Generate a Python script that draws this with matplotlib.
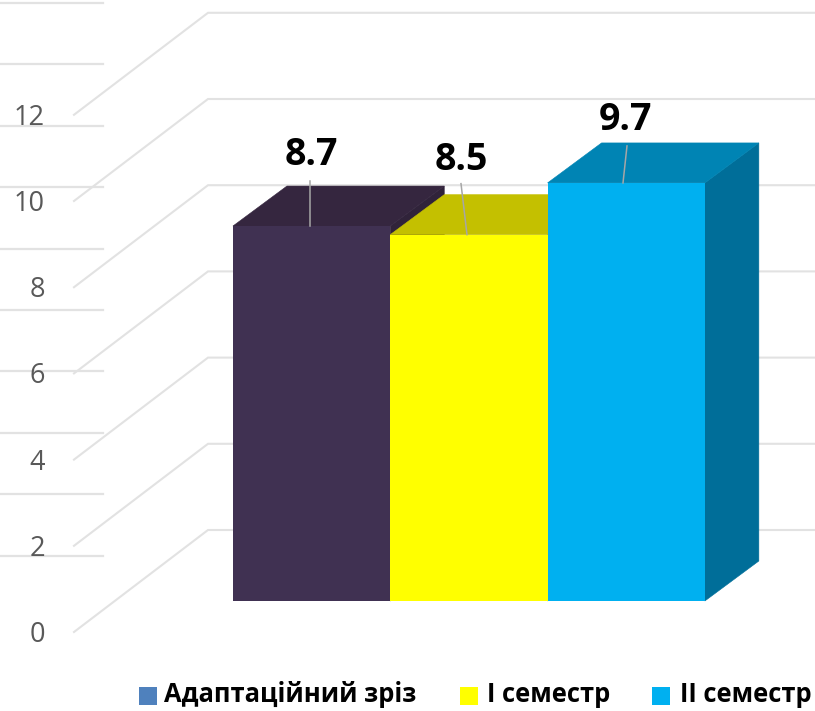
import matplotlib
matplotlib.use("Agg")
import matplotlib.pyplot as plt
from matplotlib.patches import Polygon, Rectangle

# datos
categories = ["Адаптаційний зріз", "І семестр", "ІІ семестр"]
values = [8.7, 8.5, 9.7]
labels = ["8.7", "8.5", "9.7"]
y_ticks = [0, 2, 4, 6, 8, 10, 12]

front_colors = ["#403152", "#FFFF00", "#00B0F0"]
top_colors = ["#35263F", "#C4C000", "#0084B4"]
side_colors = ["#30233A", "#9A9700", "#006E99"]
legend_colors = ["#4F81BD", "#FFFF00", "#00B0F0"]
grid_color = "#E2E2E2"
tick_color = "#595959"

plt.rcParams["font.family"] = ["Open Sans", "DejaVu Sans"]

W, H = 815, 711
PX_X = 157.3   # pixels por categoria
PX_Y = 43.1    # pixels por unidad
BASE_X = 311.6
BASE_Y = 601


def X(px):
    return (px - BASE_X) / PX_X


def Y(px):
    return (BASE_Y - px) / PX_Y


fig = plt.figure(figsize=(W / 100, H / 100), dpi=100)
ax = fig.add_axes([0, 0, 1, 1])
ax.set_xlim(X(0), X(W))
ax.set_ylim(Y(H), Y(0))
ax.axis("off")

dx_bar = 54 / PX_X
dy_bar = 40 / PX_Y

# lineas sueltas de la izquierda
for k in range(10):
    y = Y(3 + 61.4 * k)
    ax.plot([X(0), X(103)], [y, y], color=grid_color, lw=1.6, zorder=1)

# paredes del grafico
floor_front = Y(632)
floor_back = Y(530)
for t in y_ticks:
    y0 = floor_front + t
    y1 = floor_back + t
    ax.plot([X(74), X(208), X(W)], [y0, y1, y1], color=grid_color, lw=1.5,
            solid_joinstyle="miter", zorder=1)
    ax.text(X(45), y0 - 3 / PX_Y, str(t), ha="right", va="center", fontsize=19.5,
            color=tick_color, zorder=5)

# barras
w = 1.0
for i, v in enumerate(values):
    l = i - w / 2
    r = i + w / 2
    ax.add_patch(Polygon([(r, 0), (r + dx_bar, dy_bar), (r + dx_bar, v + dy_bar), (r, v)],
                         closed=True, fc=side_colors[i], ec=side_colors[i], lw=0.4, zorder=2 + i))
    ax.add_patch(Polygon([(l, v), (l + dx_bar, v + dy_bar), (r + dx_bar, v + dy_bar), (r, v)],
                         closed=True, fc=top_colors[i], ec=top_colors[i], lw=0.4, zorder=2 + i))
    ax.bar(i, v, width=w, color=front_colors[i], zorder=2 + i)

# etiquetas con linea guia
label_off = [71, 75, 63]
label_x = [311, 461, 626]
leader_top = [45, 51, 37]
leader_x0 = [310, 467, 623]
leader_x1 = [310, 461, 627]
for i, v in enumerate(values):
    ax.plot([X(leader_x0[i]), X(leader_x1[i])], [v, v + leader_top[i] / PX_Y],
            color="#A6A6A6", lw=1.1, zorder=6)
    ax.text(X(label_x[i]), v + label_off[i] / PX_Y, labels[i], ha="center", va="center",
            fontsize=27, fontweight="bold", color="black", zorder=7)

# leyenda
swatch_x = [139, 460, 652]
text_x = [164, 487, 680]
for i, name in enumerate(categories):
    ax.add_patch(Rectangle((X(swatch_x[i]), Y(705)), 18 / PX_X, 18 / PX_Y,
                           fc=legend_colors[i], ec="none", zorder=5))
    ax.text(X(text_x[i]), Y(695), name, ha="left", va="center", fontsize=18.4,
            fontweight="bold", color="black", zorder=5)

fig.savefig("out.png", dpi=100)
